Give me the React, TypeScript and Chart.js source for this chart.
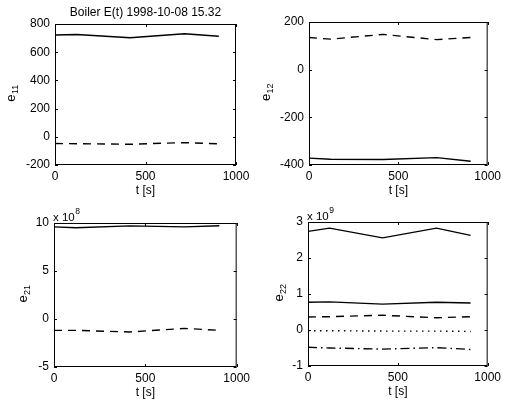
import { useEffect, useRef } from "react";
import { Chart, registerables } from "chart.js";

Chart.register(...registerables);

const FONT = "'Liberation Sans', Arial, Helvetica, sans-serif";

const MAIN_TITLE = "Boiler E(t) 1998-10-08 15.32";
const X_TITLE = "t [s]";

const TIME = [0, 120, 415, 715, 905];
const TIME_TICKS = [0, 500, 1000];

// e11
const E11_SOLID = [722, 725, 703, 731, 713];
const E11_DASH = [-48, -49, -53, -41, -50];
const E11_TICKS = [-200, 0, 200, 400, 600, 800];

// e12
const E12_DASH = [135, 128, 148, 126, 135];
const E12_SOLID = [-371, -376, -377, -369, -384];
const E12_TICKS = [-400, -200, 0, 200];

// e21 (x 10^8)
const E21_SOLID = [9.6, 9.5, 9.7, 9.6, 9.72];
const E21_DASH = [-1.18, -1.18, -1.35, -0.98, -1.18];
const E21_TICKS = [-5, 0, 5, 10];

// e22 (x 10^9)
const E22_TOP = [2.74, 2.83, 2.56, 2.83, 2.63];
const E22_SOLID = [0.77, 0.78, 0.72, 0.77, 0.75];
const E22_DASH = [0.36, 0.37, 0.41, 0.34, 0.37];
const E22_DOT = [-0.02, -0.02, -0.03, -0.03, -0.04];
const E22_DASHDOT = [-0.48, -0.5, -0.53, -0.49, -0.54];
const E22_TICKS = [-1, 0, 1, 2, 3];

const SOLID: number[] = [];
const DASHED = [8, 6];
const DOTTED = [1.5, 4.5];
const DASHDOT = [9, 4, 1.5, 4];

type Series = { data: number[]; dash: number[] };
type Panel = {
  canvas: { x: number; y: number; w: number; h: number };
  area: { l: number; t: number; r: number; b: number };
  yTicks: number[];
  sub: string;
  yLabelGap: number;
  exp?: string;
  title?: string;
  series: Series[];
};

const PANELS: Panel[] = [
  {
    canvas: { x: 0, y: 0, w: 254, h: 202 },
    area: { l: 55, t: 24, r: 236, b: 165 },
    yTicks: E11_TICKS,
    sub: "11",
    yLabelGap: 40,
    title: MAIN_TITLE,
    series: [
      { data: E11_SOLID, dash: SOLID },
      { data: E11_DASH, dash: DASHED },
    ],
  },
  {
    canvas: { x: 254, y: 0, w: 251, h: 202 },
    area: { l: 309, t: 22, r: 491, b: 165 },
    yTicks: E12_TICKS,
    sub: "12",
    yLabelGap: 39,
    series: [
      { data: E12_DASH, dash: DASHED },
      { data: E12_SOLID, dash: SOLID },
    ],
  },
  {
    canvas: { x: 0, y: 202, w: 254, h: 203 },
    area: { l: 54, t: 223, r: 237, b: 367 },
    yTicks: E21_TICKS,
    sub: "21",
    yLabelGap: 27,
    exp: "8",
    series: [
      { data: E21_SOLID, dash: SOLID },
      { data: E21_DASH, dash: DASHED },
    ],
  },
  {
    canvas: { x: 254, y: 202, w: 251, h: 203 },
    area: { l: 308, t: 222, r: 490, b: 366 },
    yTicks: E22_TICKS,
    sub: "22",
    yLabelGap: 25,
    exp: "9",
    series: [
      { data: E22_TOP, dash: SOLID },
      { data: E22_SOLID, dash: SOLID },
      { data: E22_DASH, dash: DASHED },
      { data: E22_DOT, dash: DOTTED },
      { data: E22_DASHDOT, dash: DASHDOT },
    ],
  },
];

function framePlugin(p: Panel) {
  return {
    id: "frame",
    afterDraw(chart: any) {
      const ctx = chart.ctx as CanvasRenderingContext2D;
      const { left, top, right, bottom } = chart.chartArea;
      const xs = chart.scales.x;
      const ys = chart.scales.y;
      ctx.save();
      ctx.strokeStyle = "#000";
      ctx.lineWidth = 1;
      ctx.setLineDash([]);
      ctx.strokeRect(left + 0.5, top + 0.5, right - left - 1, bottom - top - 1);
      // inward ticks
      ctx.beginPath();
      for (const v of TIME_TICKS) {
        const px = Math.round(xs.getPixelForValue(v)) + 0.5;
        ctx.moveTo(px, bottom);
        ctx.lineTo(px, bottom - 3);
        ctx.moveTo(px, top);
        ctx.lineTo(px, top + 3);
      }
      for (const v of p.yTicks) {
        const py = Math.round(ys.getPixelForValue(v)) + 0.5;
        ctx.moveTo(left, py);
        ctx.lineTo(left + 3, py);
        ctx.moveTo(right, py);
        ctx.lineTo(right - 3, py);
      }
      ctx.stroke();

      ctx.fillStyle = "#000";
      // y label e_sub (rotated)
      const mid = (top + bottom) / 2 - 1;
      const bx = left - p.yLabelGap;
      ctx.save();
      ctx.translate(bx, mid);
      ctx.rotate(-Math.PI / 2);
      ctx.textBaseline = "alphabetic";
      ctx.textAlign = "left";
      ctx.font = `13px ${FONT}`;
      const ew = ctx.measureText("e").width;
      ctx.font = `9px ${FONT}`;
      const sw = ctx.measureText(p.sub).width;
      const start = -(ew + sw) / 2;
      ctx.font = `13px ${FONT}`;
      ctx.fillText("e", start, 0);
      ctx.font = `9px ${FONT}`;
      ctx.fillText(p.sub, start + ew + 0.5, 3);
      ctx.restore();

      // x title
      ctx.font = `12px ${FONT}`;
      ctx.textAlign = "center";
      ctx.textBaseline = "alphabetic";
      ctx.fillText(X_TITLE, (left + right) / 2, bottom + 29);

      // main title
      if (p.title) {
        ctx.fillText(p.title, (left + right) / 2, top - 8.5);
      }

      // exponent label
      if (p.exp) {
        ctx.textAlign = "left";
        ctx.font = `11.5px ${FONT}`;
        const base = "x 10";
        ctx.fillText(base, left - 1, top - 2);
        const w = ctx.measureText(base).width;
        ctx.font = `8.5px ${FONT}`;
        ctx.fillText(p.exp, left - 1 + w + 0.5, top - 9);
      }
      ctx.restore();
    },
  };
}

function PanelChart({ p }: { p: Panel }) {
  const ref = useRef<HTMLCanvasElement | null>(null);
  useEffect(() => {
    const canvas = ref.current;
    if (!canvas) return;
    const { x: cx, y: cy, w: cw, h: ch } = p.canvas;
    const yw = p.area.l - cx;
    const pt = p.area.t - cy;
    const pr = cx + cw - p.area.r;
    const xh = cy + ch - p.area.b;
    const yMin = p.yTicks[0];
    const yMax = p.yTicks[p.yTicks.length - 1];
    const tickFont = { family: FONT, size: 12 };
    const plain = (v: any) => String(v);
    const chart = new Chart(canvas, {
      type: "line",
      data: {
        datasets: p.series.map((s) => ({
          data: TIME.map((t, i) => ({ x: t, y: s.data[i] })),
          borderColor: "#000",
          borderWidth: 1.4,
          borderDash: s.dash,
          pointRadius: 0,
          fill: false,
          tension: 0,
        })),
      },
      options: {
        responsive: false,
        animation: false,
        devicePixelRatio: 1,
        layout: { autoPadding: false, padding: { left: 0, top: pt, right: pr, bottom: 0 } },
        plugins: {
          legend: { display: false },
          tooltip: { enabled: false },
          title: { display: false },
        },
        scales: {
          x: {
            type: "linear",
            min: 0,
            max: 1000,
            grid: { display: false, drawTicks: false },
            border: { display: false },
            ticks: {
              padding: 4,
              color: "#000",
              font: tickFont,
              maxRotation: 0,
              autoSkip: false,
              callback: plain,
            },
            afterBuildTicks: (s: any) => {
              s.ticks = TIME_TICKS.map((v) => ({ value: v }));
            },
            afterFit: (s: any) => {
              s.height = xh;
            },
          },
          y: {
            type: "linear",
            min: yMin,
            max: yMax,
            grid: { display: false, drawTicks: false },
            border: { display: false },
            ticks: { padding: 5, color: "#000", font: tickFont, autoSkip: false, callback: plain },
            afterBuildTicks: (s: any) => {
              s.ticks = p.yTicks.map((v) => ({ value: v }));
            },
            afterFit: (s: any) => {
              s.width = yw;
            },
          },
        },
      } as any,
      plugins: [framePlugin(p)],
    });
    return () => chart.destroy();
  }, [p]);
  return (
    <canvas
      ref={ref}
      width={p.canvas.w}
      height={p.canvas.h}
      style={{
        position: "absolute",
        left: p.canvas.x,
        top: p.canvas.y,
        width: p.canvas.w,
        height: p.canvas.h,
      }}
    />
  );
}

export default function App() {
  return (
    <div
      style={{
        position: "absolute",
        left: 0,
        top: 0,
        width: 505,
        height: 405,
        background: "#fff",
        overflow: "hidden",
      }}
    >
      {PANELS.map((p, i) => (
        <PanelChart key={i} p={p} />
      ))}
    </div>
  );
}
